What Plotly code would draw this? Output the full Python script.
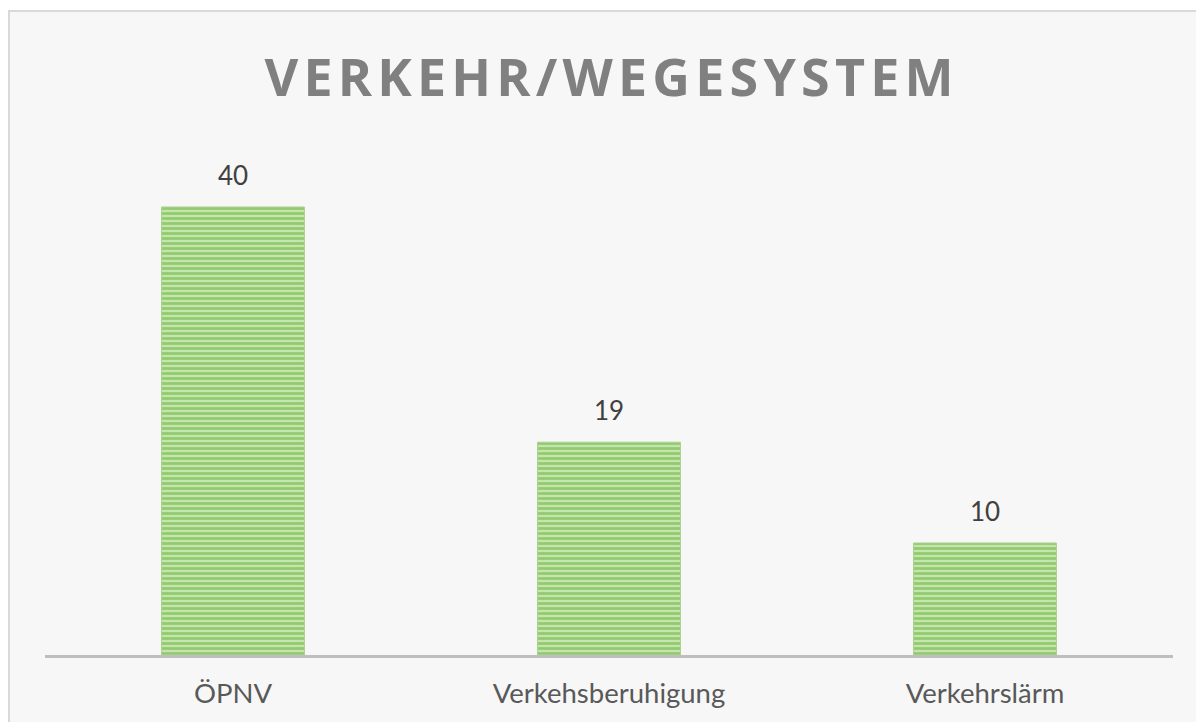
import plotly.graph_objects as go

categories = ["ÖPNV", "Verkehsberuhigung", "Verkehrslärm"]
values = [40, 19, 10]
title_text = "VERKEHR/WEGESYSTEM"

# page is offset by the browser's default 8px body margin
W, H = 1196, 714
ml, mr, mt, mb = 37, 31, 143, 67
pw, ph = W - ml - mr, H - mt - mb

def px_x(p):
    return (p - ml) / pw

def px_y(p):
    return (H - mb - p) / ph

spaced_title = "\u200a".join(title_text)

fig = go.Figure()
fig.add_trace(go.Bar(
    x=categories, y=values,
    marker=dict(
        color="#70ad47",
        line=dict(color="#a9d18e", width=1),
        pattern=dict(shape="-", fgcolor="#62ad34", bgcolor="#c4e6ac", size=5, solidity=0.55),
    ),
    hoverinfo="skip",
))

for c, v in zip(categories, values):
    fig.add_annotation(x=c, y=v, text=str(v), showarrow=False, yanchor="bottom",
                       yshift=14, font=dict(family="Lato", size=26, color="#404040"))

fig.add_shape(type="rect", xref="paper", yref="paper", layer="below",
              x0=px_x(1), x1=px_x(1210), y0=px_y(730), y1=px_y(3),
              fillcolor="#f7f7f7", line=dict(color="#d9d9d9", width=2))

fig.update_layout(
    width=W, height=H,
    margin=dict(l=ml, r=mr, t=mt, b=mb),
    paper_bgcolor="white", plot_bgcolor="rgba(0,0,0,0)",
    bargap=0.62,
    showlegend=False,
    title=dict(text=spaced_title, x=0.5, xref="paper", xanchor="center",
               y=1 - 70 / H, yanchor="middle",
               font=dict(family="Open Sans", size=52, color="#808080", weight="bold")),
    xaxis=dict(showline=True, linecolor="#bfbfbf", linewidth=3, showgrid=False,
               ticks="", ticklabelstandoff=12,
               tickfont=dict(family="Lato", size=27.5, color="#595959")),
    yaxis=dict(range=[0, 45], visible=False, showgrid=False, zeroline=False),
)

fig.write_html("out.html")
